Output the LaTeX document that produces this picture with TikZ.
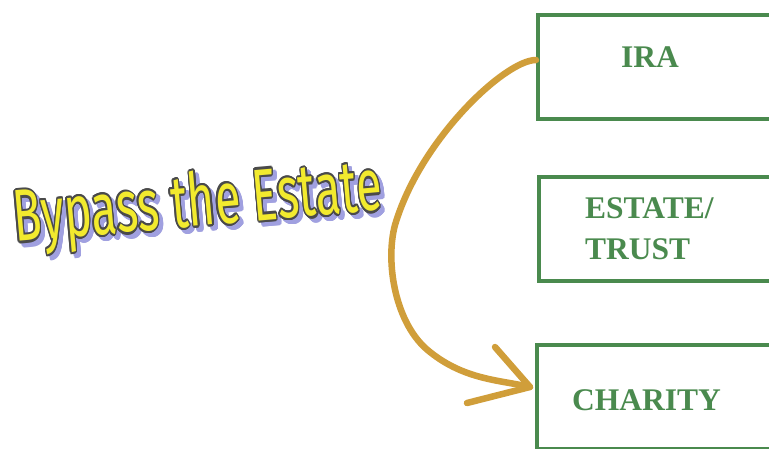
\documentclass[tikz,border=0pt]{standalone}
\usepackage{fontspec}
\setmainfont{Liberation Serif}
\newfontfamily\comicfont{Fira Sans}
\usepackage{contour}
\contourlength{1.6pt}
\contournumber{16}
\usepackage{graphicx}
\definecolor{boxgreen}{HTML}{4A8A4E}
\definecolor{arrowgold}{HTML}{D09E3A}
\definecolor{sunyellow}{HTML}{F2EA2E}
\definecolor{outlinegray}{HTML}{4A4A4A}
\definecolor{shadowblue}{HTML}{A0A0E0}
\newcommand{\bypasstext}{\comicfont\fontsize{56}{56}\selectfont Bypass the Estate}
\begin{document}
\begin{tikzpicture}[x=1pt,y=-1pt,
  greenbox/.style={draw=boxgreen, line width=4pt, fill=white, rectangle, anchor=north west,
    minimum width=280pt, minimum height=104pt, inner sep=0pt},
  boxlabel/.style={text=boxgreen, font=\fontsize{31.5}{41}\selectfont\bfseries, inner sep=0pt},
  titlestyle/.style={anchor=base west, rotate=5, inner sep=0pt},
  goldline/.style={draw=arrowgold, line width=6.5pt, line cap=round, line join=round}]
\clip (0,0) rectangle (769,449);
\fill[white] (0,0) rectangle (769,449);

\node[greenbox] (ira) at (536,13) {};
\node[greenbox] (estate) at (537,175) {};
\node[greenbox] (charity) at (535,343) {};

\node[boxlabel, anchor=base] (iralbl) at (650,68) {IRA};
\node[boxlabel, anchor=base west] (estatelbl) at (585,219) {ESTATE/};
\node[boxlabel, anchor=base west] (trustlbl) at (585,260) {TRUST};
\node[boxlabel, anchor=base west] (charitylbl) at (572,410) {CHARITY};

% yellow title with shadow and outline
\node[titlestyle, text=shadowblue] (shadow) at (19,246)
  {\resizebox{370pt}{55pt}{\contour{shadowblue}{\bypasstext}}};
\node[titlestyle, text=sunyellow] (title) at (15,242)
  {\resizebox{370pt}{55pt}{\contour{outlinegray}{\bypasstext}}};

\coordinate (start) at (ira.west |- 0,60);
\coordinate (tip) at (530,387);
\draw[goldline] (start) .. controls (505,60) and (420,140) .. (395,225)
  .. controls (385,262) and (395,325) .. (430,352)
  .. controls (465,380) and (500,380) .. (tip);
\draw[goldline] (495,347) -- (tip) -- (467,403);
\end{tikzpicture}
\end{document}
